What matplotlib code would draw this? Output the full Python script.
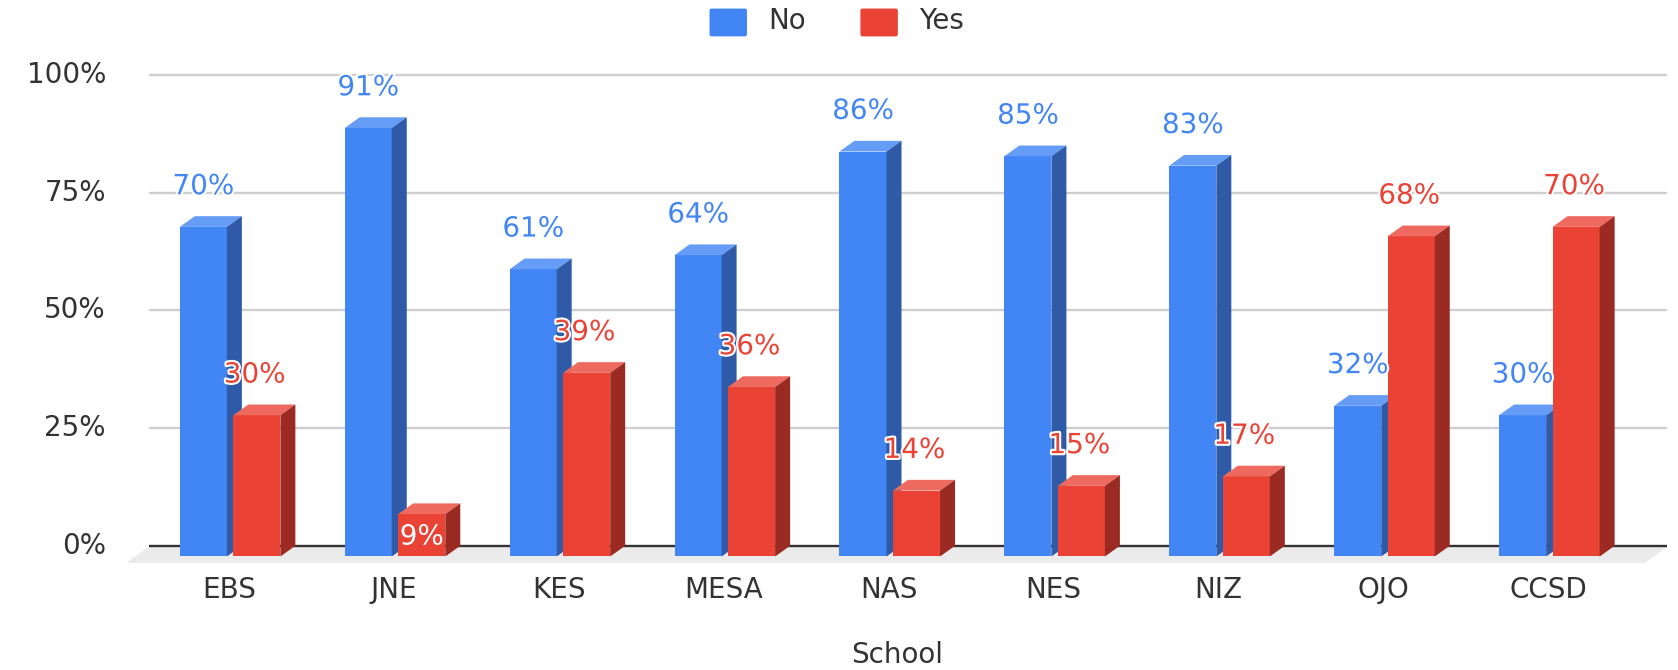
import matplotlib
matplotlib.use("Agg")
import matplotlib.pyplot as plt
import matplotlib.patheffects as pe
from matplotlib.patches import Polygon, Rectangle, FancyBboxPatch

schools = ["EBS", "JNE", "KES", "MESA", "NAS", "NES", "NIZ", "OJO", "CCSD"]
no_values = [70, 91, 61, 64, 86, 85, 83, 32, 30]
yes_values = [30, 9, 39, 36, 14, 15, 17, 68, 70]
yticks = [0, 25, 50, 75, 100]

W, H = 1678, 670
S = 1678 / 1568           # layout measured on a 1568-wide view
FS = 20
plt.rcParams["font.family"] = "DejaVu Sans"
fig = plt.figure(figsize=(W / 100, H / 100), dpi=100)

L, R, T, B = 139 * S, 1558 * S, 70 * S, 510 * S
ax = fig.add_axes([L / W, 1 - B / H, (R - L) / W, (B - T) / H])
PX = 154.1 * S            # px per category
C0 = 214 * S
ax.set_xlim((L - C0) / PX, (R - C0) / PX)
ax.set_ylim(0, 100)
ax.axis("off")
ax.patch.set_visible(False)

px_x = S / PX             # one view pixel in x data units
px_y = 100 / 440          # one view pixel in y data units
bar_w = 44 * px_x
dx, dy = 14 * px_x, 10 * px_y
drop = dy                 # front face sits below the zero line

xl, xr_ = ax.get_xlim()
floor = Polygon([(xl - 21 * px_x, -16 * px_y), (xr_ - 21 * px_x, -16 * px_y),
                 (xr_, -1 * px_y), (xl, -1 * px_y)],
                closed=True, fc="#ebebeb", ec="none", zorder=1, clip_on=False)
ax.add_patch(floor)

for t in yticks:
    ax.plot([xl, xr_], [t, t], color="#333333" if t == 0 else "#cfcfcf", lw=1.7,
            zorder=2, clip_on=False, solid_capstyle="butt")
    ax.annotate(f"{t}%", (0, t), xycoords=("axes fraction", "data"),
                xytext=(-40 * S, 0), textcoords="offset pixels", ha="right", va="center",
                fontsize=FS, color="#333333", annotation_clip=False)


def draw_bar(x0, v, front, top, side, z):
    y0, y1 = -drop, v - drop
    ax.add_patch(Rectangle((x0, y0), bar_w, v, fc=front, ec="none", zorder=z, clip_on=False))
    ax.add_patch(Polygon([(x0, y1), (x0 + bar_w, y1), (x0 + bar_w + dx, y1 + dy), (x0 + dx, y1 + dy)],
                         closed=True, fc=top, ec="none", zorder=z, clip_on=False))
    ax.add_patch(Polygon([(x0 + bar_w, y0), (x0 + bar_w + dx, y0 + dy), (x0 + bar_w + dx, y1 + dy), (x0 + bar_w, y1)],
                         closed=True, fc=side, ec="none", zorder=z, clip_on=False))


BLUE, RED = "#4285f4", "#ea4335"
for i, (n, y) in enumerate(zip(no_values, yes_values)):
    draw_bar(i - 46 * px_x, n, BLUE, "#659df6", "#2e5aa8", 3 + i * 2)
    draw_bar(i + 4 * px_x, y, RED, "#ee6a5e", "#9b2a22", 3 + i * 2 + 1)

for i, (n, y) in enumerate(zip(no_values, yes_values)):
    xb = i - 24 * px_x
    xr = i + 26 * px_x
    ax.annotate(f"{n}%", (xb, n), xytext=(0, 28 * S), textcoords="offset pixels", ha="center", va="center",
                fontsize=FS, color=BLUE, zorder=40, annotation_clip=False,
                path_effects=[pe.withStroke(linewidth=3, foreground="white")])
    if y < 10:
        ax.annotate(f"{y}%", (xr, y), xytext=(0, -31 * S), textcoords="offset pixels", ha="center", va="center",
                    fontsize=FS, color="white", zorder=40, annotation_clip=False,
                    path_effects=[pe.withStroke(linewidth=3, foreground=RED)])
    else:
        ax.annotate(f"{y}%", (xr, y), xytext=(-2 * S, 28 * S), textcoords="offset pixels", ha="center", va="center",
                    fontsize=FS, color=RED, zorder=40, annotation_clip=False,
                    path_effects=[pe.withStroke(linewidth=3, foreground="white")])
    ax.annotate(schools[i], (i, 0), xytext=(0, -41 * S), textcoords="offset pixels", ha="center", va="center",
                fontsize=FS, color="#333333", annotation_clip=False)

fig.text(838 * S / W, 1 - 612 * S / H, "School", ha="center", va="center", fontsize=FS, color="#333333")

# legend
for x, label, c in [(663, "No", BLUE), (804, "Yes", RED)]:
    fig.patches.append(FancyBboxPatch((x * S + 2, H - 34 * S + 2), 35 * S - 4, 26 * S - 4,
                                      boxstyle="round,pad=2", transform=None, fc=c, ec="none"))
    fig.text((x + 55) * S / W, 1 - 20 * S / H, label, ha="left", va="center", fontsize=FS, color="#333333")

fig.savefig("out.png", dpi=100, facecolor="white")
